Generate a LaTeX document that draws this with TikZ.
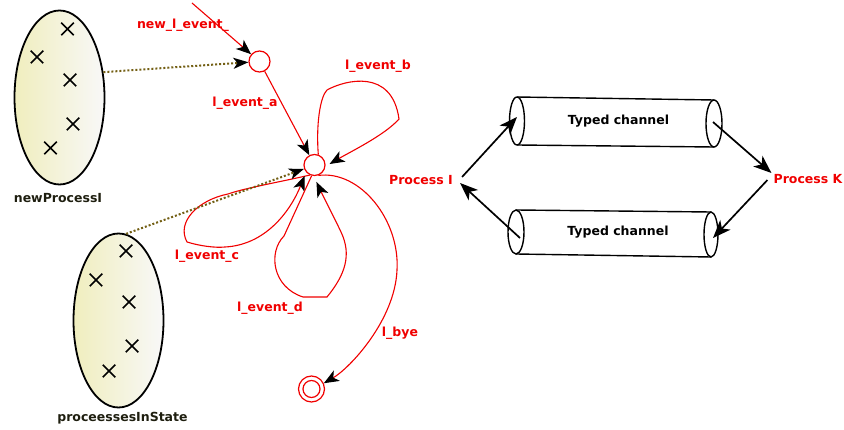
\documentclass[tikz,border=0pt]{standalone}
\usepackage{fontspec}
\setmainfont{DejaVu Sans}
\usetikzlibrary{arrows.meta,shapes.geometric,shapes.misc}
\definecolor{olivedot}{RGB}{115,95,20}
\definecolor{setleft}{RGB}{240,238,190}
\definecolor{setright}{RGB}{248,248,248}
\definecolor{darklbl}{RGB}{30,30,15}
\definecolor{evred}{RGB}{240,0,0}
\begin{document}
\begin{tikzpicture}[x=1pt,y=-1pt,
  lbl/.style={font=\bfseries\fontsize{12.5}{14}\selectfont, text=evred, inner sep=1pt},
  setlbl/.style={font=\bfseries\fontsize{12.5}{14}\selectfont, text=darklbl, inner sep=1pt},
  chlbl/.style={font=\bfseries\fontsize{12.5}{14}\selectfont, text=black, inner sep=1pt},
  setell/.style={ellipse, draw=black, line width=1.8pt, left color=setleft, right color=setright, inner sep=0pt, minimum width=90pt, minimum height=174pt},
  xm/.style={cross out, draw=black, line width=1.5pt, minimum size=11pt, inner sep=0pt},
  state/.style={circle, draw=evred, line width=1.2pt, minimum size=21pt, inner sep=0pt},
  tr/.style={draw=evred, line width=1.1pt, -{Stealth[length=15pt,width=12pt,inset=4pt,color=black]}},
  dotarr/.style={draw=olivedot, line width=2pt, dotted, -{Stealth[length=15pt,width=11pt,inset=4pt,color=black]}},
  ch/.style={draw=black, line width=1.4pt},
  flow/.style={draw=black, line width=1.7pt, -{Stealth[length=18pt,width=14pt,inset=5pt]}}
]
\useasboundingbox (0,0) rectangle (844,430);

% sets
\node[setell] (s1) at (59.5,97.5) {};
\node[setell] (s2) at (118.5,320.5) {};
\node[setlbl] (s1l) at (58,198) {newProcessI};
\node[setlbl] (s2l) at (122.5,418) {proceessesInState};
\foreach \p/\n in {{(67.5,29)}/a,{(37,57)}/b,{(70,80)}/c,{(73,124)}/d,{(50.5,148)}/e}
  \node[xm] (x1\n) at \p {};
\foreach \p/\n in {{(126,251)}/a,{(96,280)}/b,{(129,302)}/c,{(132,346)}/d,{(109,371)}/e}
  \node[xm] (x2\n) at \p {};

% states
\node[state] (n) at (259.5,61.5) {};
\node[state] (c) at (314.5,165) {};
\node[state, minimum size=26pt] (f) at (311.5,389) {};
\node[state, minimum size=17pt] (fi) at (311.5,389) {};
\coordinate (start) at (192,3);

% labels
\node[lbl] (ln) at (183,25) {new\_l\_event\_};
\node[lbl] (la) at (245,103) {l\_event\_a};
\node[lbl] (lb) at (378,66) {l\_event\_b};
\node[lbl] (lc) at (207,256) {l\_event\_c};
\node[lbl] (ld) at (270,308) {l\_event\_d};
\node[lbl] (lby) at (400,333) {l\_bye};

% transitions
\draw[tr] (start) -- (n);
\draw[tr] (n) -- (c);
\draw[tr] (c.70) .. controls (316,125) and (320,97) .. (327,90)
   .. controls (345,80) and (392,68) .. (399,119)
   .. controls (385,135) and (350,152) .. ([xshift=4pt]c.5);
\draw[tr] (c.245) .. controls (280,182) and (245,188) .. (228,194)
   .. controls (198,200) and (176,222) .. (187,242)
   .. controls (200,246) and (215,248) .. (225,247)
   .. controls (265,245) and (290,212) .. ([shift={(-2pt,-3pt)}]c.225);
\draw[tr] (c.255) -- (284,236)
   .. controls (268,252) and (272,287) .. (303,297) -- (327,297)
   .. controls (345,275) and (352,255) .. (341,232)
   .. controls (333,215) and (325,200) .. ([yshift=-6pt]c.280);
\draw[tr] (c.290) .. controls (360,170) and (400,220) .. (397,270)
   .. controls (395,320) and (350,368) .. (f.25);

% dotted
\draw[dotarr] (s1.30) -- (n);
\draw[dotarr] (s2.85) -- (c);

% right side
\node[lbl] (pI) at (421,180) {Process I};
\node[lbl] (pK) at (808,179) {Process K};
\node[chlbl] (t1) at (618.5,121) {Typed channel};
\node[chlbl] (t2) at (618,232) {Typed channel};
\draw[ch] (517,97) -- (714,100);
\draw[ch] (517,145) -- (714,147);
\draw[ch] (517,121) ellipse [x radius=7.5pt, y radius=24pt];
\draw[ch] (714,123.5) ellipse [x radius=8pt, y radius=23.5pt];
\draw[ch] (516,210) -- (711,212);
\draw[ch] (516,254) -- (711,257);
\draw[ch] (516,232) ellipse [x radius=8pt, y radius=22pt];
\draw[ch] (711,234.5) ellipse [x radius=7pt, y radius=22.5pt];
\coordinate (tl) at (517,117);
\coordinate (tr) at (713,122);
\coordinate (br) at (713,238);
\coordinate (bl) at (520,238);
\draw[flow] ([shift={(8pt,3pt)}]pI.east) -- (tl);
\draw[flow] (tr) -- ([shift={(-1pt,6pt)}]pK.west);
\draw[flow] ([shift={(-5pt,-1pt)}]pK.west) -- (br);
\draw[flow] (bl) -- ([shift={(6pt,-3pt)}]pI.east);
\end{tikzpicture}
\end{document}
